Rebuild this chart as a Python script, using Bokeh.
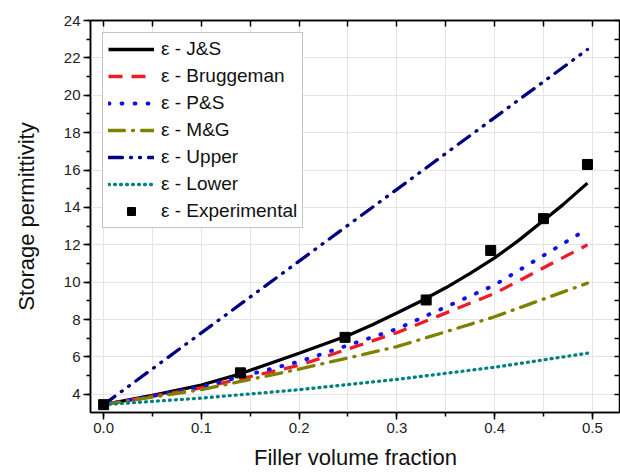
from bokeh.plotting import figure
from bokeh.models import (Range1d, LinearAxis, SingleIntervalTicker, FixedTicker, Legend,
                          LegendItem, CustomJSTickFormatter)
from bokeh.embed import file_html
from bokeh.resources import INLINE

# ---- data ----
js_x = [0.0, 0.05, 0.1, 0.14, 0.2, 0.25, 0.275, 0.3, 0.325, 0.35, 0.375, 0.4, 0.425,
        0.45, 0.47, 0.495]
js_y = [3.45, 3.95, 4.5, 5.1, 6.2, 7.15, 7.73, 8.35, 9.0, 9.7, 10.47, 11.3, 12.25,
        13.3, 14.15, 15.3]

model_x = [0.0, 0.1, 0.2, 0.3, 0.4, 0.495]
brug_y = [3.45, 4.35, 5.55, 7.3, 9.4, 12.0]
ps_y = [3.45, 4.4, 5.75, 7.5, 9.85, 12.85]
mg_y = [3.45, 4.25, 5.35, 6.55, 8.15, 9.95]
lower_y = [3.45, 3.8, 4.25, 4.8, 5.45, 6.2]

upper_x = [0.0, 0.495]
upper_y = [3.45, 22.45]

exp_x = [0.0, 0.14, 0.247, 0.33, 0.396, 0.45, 0.495]
exp_y = [3.45, 5.15, 7.05, 9.05, 11.7, 13.4, 16.3]

labels = ["\u03b5 - J&S", "\u03b5 - Bruggeman", "\u03b5 - P&S", "\u03b5 - M&G",
          "\u03b5 - Upper", "\u03b5 - Lower", "\u03b5 - Experimental"]

FONT = "Liberation Sans"

p = figure(width=620, height=472, output_backend="svg", toolbar_location=None,
           x_range=Range1d(-0.0134, 0.5288), y_range=Range1d(3.03, 24.0),
           min_border_left=90, min_border_top=20, min_border_right=0, min_border_bottom=10)
p.outline_line_color = "black"
p.outline_line_width = 1.5

# grids
p.xgrid.ticker = SingleIntervalTicker(interval=0.05)
p.ygrid.ticker = SingleIntervalTicker(interval=2)
for g in (p.xgrid[0], p.ygrid[0]):
    g.grid_line_color = "#e4e4e4"
    g.grid_line_width = 1

xa = p.xaxis[0]
xa.ticker = SingleIntervalTicker(interval=0.1, num_minor_ticks=2)
xa.axis_label = "Filler volume fraction"
ya = p.yaxis[0]
ya.ticker = SingleIntervalTicker(interval=2, num_minor_ticks=2)
ya.axis_label = "Storage permittivity"
xa.formatter = CustomJSTickFormatter(code="return tick.toFixed(1);")
ya.formatter = CustomJSTickFormatter(code="return tick.toFixed(0);")
for ax in (xa, ya):
    ax.axis_line_color = "black"
    ax.axis_line_width = 1.5
    ax.major_tick_line_color = "black"
    ax.minor_tick_line_color = "black"
    ax.major_tick_line_width = 1.5
    ax.minor_tick_line_width = 1.5
    ax.major_tick_out = 7
    ax.major_tick_in = 0
    ax.minor_tick_out = 4
    ax.minor_tick_in = 0
    ax.major_label_text_font = FONT
    ax.major_label_text_font_size = "15px"
    ax.major_label_text_color = "#222222"
    ax.axis_label_text_font = FONT
    ax.axis_label_text_font_size = "22px"
    ax.axis_label_text_font_style = "normal"
    ax.axis_label_text_color = "#111111"
xa.major_label_standoff = 3
xa.axis_label_standoff = 9
ya.major_label_standoff = 3
ya.axis_label_standoff = 22

# top and right mirror axes: ticks only (minor ticks of fixed tickers, no labels)
top_ticks = [0.0, 0.05, 0.1, 0.15, 0.2, 0.25, 0.3, 0.35, 0.4, 0.45, 0.5]
right_ticks = list(range(4, 25))
top = LinearAxis(ticker=FixedTicker(ticks=[], minor_ticks=top_ticks))
right = LinearAxis(ticker=FixedTicker(ticks=[], minor_ticks=right_ticks))
for ax in (top, right):
    ax.major_label_standoff = 0
    ax.axis_line_color = "black"
    ax.axis_line_width = 1.5
    ax.minor_tick_line_width = 1.5
    ax.minor_tick_line_color = "black"
    ax.major_tick_out = 0
    ax.major_tick_in = 0
    ax.minor_tick_out = 0
    ax.minor_tick_in = 6
p.add_layout(top, "above")
p.add_layout(right, "right")

W = 3.3
r_js = p.line(js_x, js_y, line_color="black", line_width=W)
r_br = p.line(model_x, brug_y, line_color="#ee1c24", line_width=W, line_dash="14 9")
r_ps = p.line(model_x, ps_y, line_color="#1010ee", line_width=W + 0.6, line_dash="1 12",
              line_cap="round")
r_mg = p.line(model_x, mg_y, line_color="#808000", line_width=W, line_dash="16 8 1 8",
              line_cap="round")
r_up = p.line(upper_x, upper_y, line_color="#000080", line_width=W,
              line_dash="14 8 1 8 1 8", line_cap="round")
r_lo = p.line(model_x, lower_y, line_color="#008080", line_width=W, line_dash="1 5",
              line_cap="round")
r_ex = p.scatter(exp_x, exp_y, marker="square", size=10, fill_color="black",
                 line_color="black")

legend = Legend(items=[LegendItem(label=l, renderers=[r]) for l, r in
                       zip(labels, [r_js, r_br, r_ps, r_mg, r_up, r_lo, r_ex])],
                location="top_left")
legend.label_text_font = FONT
legend.label_text_font_size = "19px"
legend.label_text_color = "#111111"
legend.glyph_width = 46
legend.glyph_height = 20
legend.spacing = 5
legend.padding = 5
legend.margin = 12
legend.label_standoff = 7
legend.border_line_color = "#8a8a8a"
legend.border_line_width = 1
legend.background_fill_alpha = 1
p.add_layout(legend, "center")

open("out.html", "w").write(file_html(p, INLINE))
